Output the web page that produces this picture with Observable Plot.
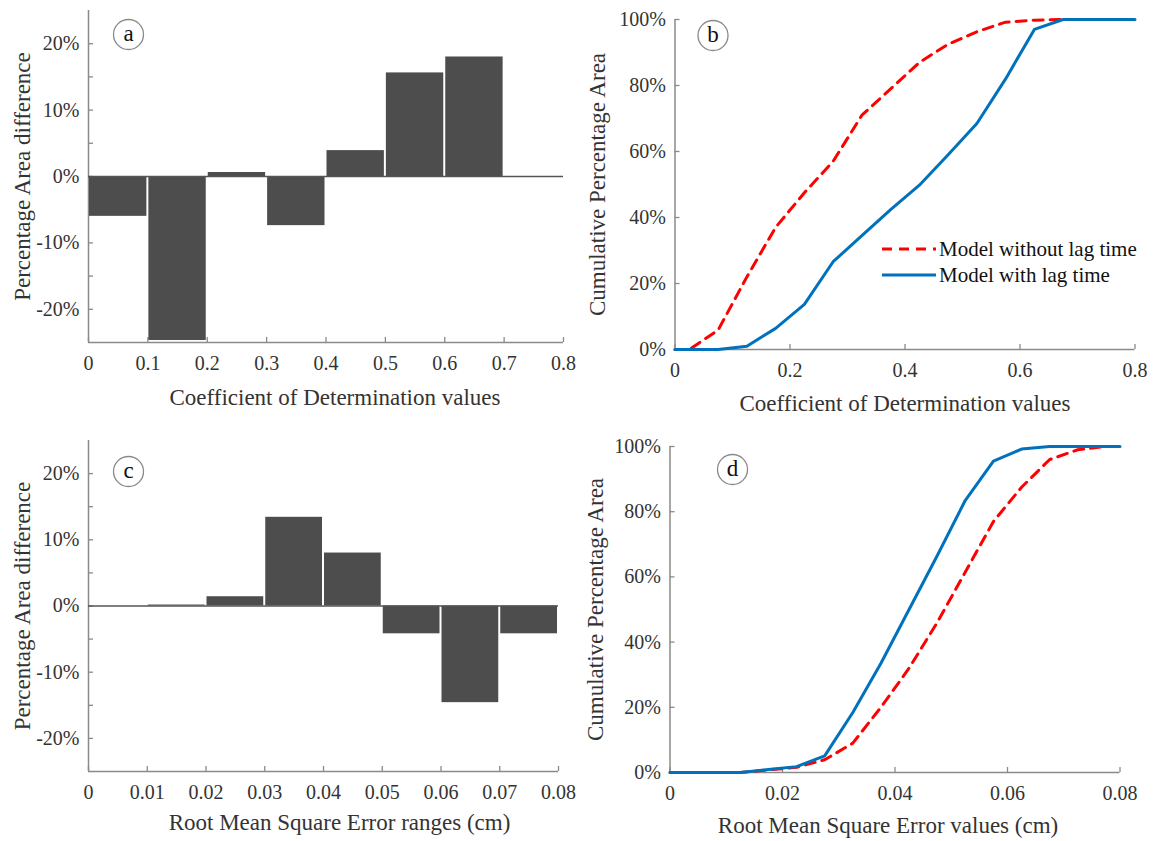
<!DOCTYPE html>
<html>
<head>
<meta charset="utf-8">
<script src="https://cdn.jsdelivr.net/npm/d3@7"></script>
<script src="https://cdn.jsdelivr.net/npm/@observablehq/plot@0.6"></script>
<style>
  html, body { margin: 0; padding: 0; background: #fff; }
  #page { position: relative; width: 1153px; height: 841px; overflow: hidden; font-family: "Liberation Serif", "Times New Roman", serif; }
  .panel { position: absolute; }
  #legend { position: absolute; left: 0; top: 0; pointer-events: none; }
</style>
</head>
<body>
<div id="page">
  <div class="panel" id="pa" style="left:0px;top:0px"></div>
  <div class="panel" id="pb" style="left:580px;top:0px"></div>
  <div class="panel" id="pc" style="left:0px;top:420px"></div>
  <div class="panel" id="pd" style="left:580px;top:420px"></div>
</div>
<script>
// ---------- Data ----------
// Panel a: percentage area difference by coefficient of determination bin
const binStartA = [0, 0.1, 0.2, 0.3, 0.4, 0.5, 0.6, 0.7];
const binEndA   = [0.1, 0.2, 0.3, 0.4, 0.5, 0.6, 0.7, 0.8];
const diffA     = [-6.0, -24.7, 0.6, -7.4, 3.9, 15.6, 18.0, 0];

// Panel c: percentage area difference by RMSE bin (cm)
const binStartC = [0, 0.01, 0.02, 0.03, 0.04, 0.05, 0.06, 0.07];
const binEndC   = [0.01, 0.02, 0.03, 0.04, 0.05, 0.06, 0.07, 0.08];
const diffC     = [0, 0.15, 1.4, 13.4, 8.0, -4.2, -14.6, -4.2];

// Panel b: cumulative percentage area vs coefficient of determination
const xB        = [0, 0.025, 0.075, 0.125, 0.175, 0.225, 0.275, 0.325, 0.375, 0.425, 0.475, 0.525, 0.575, 0.625, 0.675, 0.725, 0.775, 0.8];
const withoutB  = [0, 0, 5.9, 22, 37, 47.5, 57, 71, 79, 87, 92.5, 96.3, 99.2, 99.8, 100, 100, 100, 100];
const withB     = [0, 0, 0, 1.0, 6.4, 13.7, 26.6, 34.5, 42.4, 49.8, 59, 68.5, 82, 97, 100, 100, 100, 100];

// Panel d: cumulative percentage area vs RMSE (cm)
const xD        = [0, 0.0025, 0.0075, 0.0125, 0.0175, 0.0225, 0.0275, 0.0325, 0.0375, 0.0425, 0.0475, 0.0525, 0.0575, 0.0625, 0.0675, 0.0725, 0.0775, 0.08];
const withoutD  = [0, 0, 0, 0, 0.8, 1.6, 3.9, 9, 20, 32, 46, 61.5, 77, 87.5, 96, 99, 100, 100];
const withD     = [0, 0, 0, 0, 0.9, 1.8, 5.1, 18.4, 33.5, 50, 66.5, 83.5, 95.5, 99.2, 100, 100, 100, 100];

// Tick values
const xTicksA = [0, 0.1, 0.2, 0.3, 0.4, 0.5, 0.6, 0.7, 0.8];
const xTicksC = [0, 0.01, 0.02, 0.03, 0.04, 0.05, 0.06, 0.07, 0.08];
const xTicksB = [0, 0.2, 0.4, 0.6, 0.8];
const xTicksD = [0, 0.02, 0.04, 0.06, 0.08];
const yLabelsDiff = [-20, -10, 0, 10, 20];
const yTicksDiff  = [-20, -15, -10, -5, 0, 5, 10, 15, 20];
const yTicksCum   = [0, 20, 40, 60, 80, 100];

const seriesNames = ["Model without lag time", "Model with lag time"];
const titles = {
  a: ["Coefficient of Determination values", "Percentage Area difference"],
  b: ["Coefficient of Determination values", "Cumulative Percentage Area"],
  c: ["Root Mean Square Error ranges (cm)", "Percentage Area difference"],
  d: ["Root Mean Square Error values (cm)", "Cumulative Percentage Area"]
};

// ---------- Styles ----------
const FONT = "Liberation Serif";
const TEXT = "#333";
const AXIS = "#8a8a8a";
const BAR = "#4d4d4d";
const RED = "#ff0000";
const BLUE = "#0072bd";
const fmtNum = d => String(+(+d).toFixed(4));
const fmtPct = d => String(d) + "%";

function frameParts(o) {
  const fw = o.width - o.marginLeft - o.marginRight;
  const fh = o.height - o.marginTop - o.marginBottom;
  return {fw, fh};
}

function commonMarks(o, cfg) {
  const {fw, fh} = frameParts(o);
  return [
    // axis lines (left & bottom)
    Plot.ruleX([cfg.xDomain[0]], {stroke: AXIS, strokeWidth: 1.5}),
    Plot.ruleY([cfg.yDomain[0]], {stroke: AXIS, strokeWidth: 1.5}),
    // inward ticks
    Plot.tickY(cfg.yTicks, {y: d => d, insetRight: fw - 5, stroke: AXIS, strokeWidth: 1.3}),
    Plot.tickX(cfg.xTicks, {x: d => d, insetTop: fh - 5, stroke: AXIS, strokeWidth: 1.3}),
    // tick labels
    Plot.axisY(cfg.yLabels, {tickSize: 0, tickPadding: 9, tickFormat: fmtPct, fontSize: 20, fill: TEXT, label: null}),
    Plot.axisX(cfg.xTicks, {tickSize: 0, tickPadding: 13, tickFormat: fmtNum, fontSize: 20, fill: TEXT, label: null}),
    // axis titles
    Plot.text([cfg.xTitle], {frameAnchor: "bottom", dx: cfg.xTitleDx, dy: cfg.xTitleDy, fontSize: 23, fill: TEXT, textAnchor: "middle", lineAnchor: "middle"}),
    Plot.text([cfg.yTitle], {frameAnchor: "left", rotate: -90, dx: cfg.yTitleDx, fontSize: 23, fill: TEXT, textAnchor: "middle", lineAnchor: "middle"})
  ];
}

function panelLetter(cfg) {
  return [
    Plot.dot([0], {frameAnchor: "top-left", dx: cfg.circle[0], dy: cfg.circle[1], r: 15, stroke: "#8a8a8a", strokeWidth: 1.3, fill: "white"}),
    Plot.text([cfg.letter], {frameAnchor: "top-left", dx: cfg.circle[0], dy: cfg.circle[1] - 1, fontSize: 23, fill: "#111", textAnchor: "middle", lineAnchor: "middle"})
  ];
}

function barPanel(o, cfg, starts, ends, vals) {
  const table = starts.map((s, i) => ({x1: s, x2: ends[i], v: vals[i]}));
  return Plot.plot({
    ...o,
    style: {fontFamily: FONT, fontSize: "20px", color: TEXT, background: "transparent", overflow: "visible"},
    x: {domain: cfg.xDomain},
    y: {domain: cfg.yDomain},
    marks: [
      ...commonMarks(o, cfg),
      Plot.rectY(table, {x1: "x1", x2: "x2", y: "v", fill: BAR, insetLeft: 1, insetRight: 1}),
      Plot.ruleY([0], {stroke: "#555", strokeWidth: 1.4}),
      ...panelLetter(cfg)
    ]
  });
}

function linePanel(o, cfg, xs, without, withLag) {
  const dWithout = xs.map((x, i) => ({x, y: without[i]}));
  const dWith = xs.map((x, i) => ({x, y: withLag[i]}));
  return Plot.plot({
    ...o,
    style: {fontFamily: FONT, fontSize: "20px", color: TEXT, background: "transparent", overflow: "visible"},
    x: {domain: cfg.xDomain},
    y: {domain: cfg.yDomain},
    marks: [
      ...commonMarks(o, cfg),
      Plot.line(dWithout, {x: "x", y: "y", stroke: RED, strokeWidth: 3, strokeDasharray: "10,7", strokeLinejoin: "round"}),
      Plot.line(dWith, {x: "x", y: "y", stroke: BLUE, strokeWidth: 3, strokeLinejoin: "round"}),
      ...panelLetter(cfg)
    ]
  });
}

// Panel a
const oA = {width: 580, height: 420, marginLeft: 88, marginRight: 17, marginTop: 10, marginBottom: 78};
document.getElementById("pa").append(barPanel(oA, {
  xDomain: [0, 0.8], yDomain: [-25, 25], xTicks: xTicksA, yTicks: yTicksDiff, yLabels: yLabelsDiff,
  xTitle: titles.a[0], yTitle: titles.a[1], xTitleDx: 9, xTitleDy: 55, yTitleDx: -66,
  letter: "a", circle: [40, 24]
}, binStartA, binEndA, diffA));

// Panel c
const oC = {width: 580, height: 421, marginLeft: 88, marginRight: 22, marginTop: 20, marginBottom: 70};
document.getElementById("pc").append(barPanel(oC, {
  xDomain: [0, 0.08], yDomain: [-25, 25], xTicks: xTicksC, yTicks: yTicksDiff, yLabels: yLabelsDiff,
  xTitle: titles.c[0], yTitle: titles.c[1], xTitleDx: 16, xTitleDy: 51, yTitleDx: -66,
  letter: "c", circle: [40, 31]
}, binStartC, binEndC, diffC));

// Panel b
const oB = {width: 573, height: 420, marginLeft: 94.5, marginRight: 18.5, marginTop: 19, marginBottom: 71};
document.getElementById("pb").append(linePanel(oB, {
  xDomain: [0, 0.8], yDomain: [0, 100], xTicks: xTicksB, yTicks: yTicksCum, yLabels: yTicksCum,
  xTitle: titles.b[0], yTitle: titles.b[1], xTitleDx: 0, xTitleDy: 54, yTitleDx: -77,
  letter: "b", circle: [38, 16]
}, xB, withoutB, withB));

// Panel d
const oD = {width: 573, height: 421, marginLeft: 89.5, marginRight: 33.5, marginTop: 26, marginBottom: 69};
document.getElementById("pd").append(linePanel(oD, {
  xDomain: [0, 0.08], yDomain: [0, 100], xTicks: xTicksD, yTicks: yTicksCum, yLabels: yTicksCum,
  xTitle: titles.d[0], yTitle: titles.d[1], xTitleDx: -7, xTitleDy: 53, yTitleDx: -74.5,
  letter: "d", circle: [62.5, 23]
}, xD, withoutD, withD));

// Legend (inside panel b)
const leg = d3.select("#page").append("svg").attr("id", "legend").attr("width", 1153).attr("height", 841);
const legItems = [
  {name: seriesNames[0], color: RED, dash: "10,7", y: 249},
  {name: seriesNames[1], color: BLUE, dash: null, y: 275}
];
legItems.forEach(it => {
  leg.append("line").attr("x1", 882).attr("x2", 936).attr("y1", it.y).attr("y2", it.y)
    .attr("stroke", it.color).attr("stroke-width", 3).attr("stroke-dasharray", it.dash);
  leg.append("text").attr("x", 939).attr("y", it.y).attr("dy", "0.34em")
    .attr("font-family", FONT).attr("font-size", 21).attr("fill", "#111").text(it.name);
});
</script>
</body>
</html>
